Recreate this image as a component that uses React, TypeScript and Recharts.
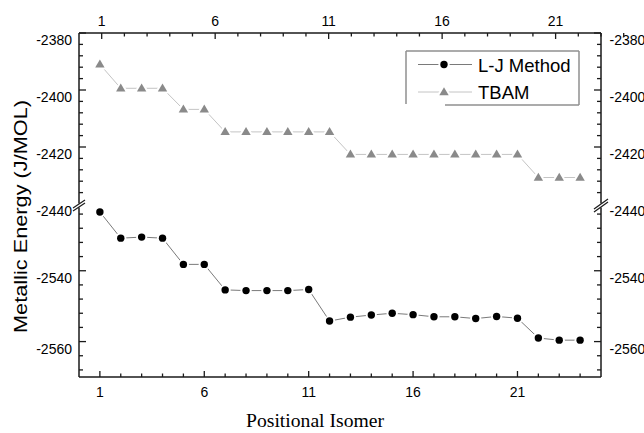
import React from 'react';
import { LineChart, Line, XAxis, YAxis, Legend, Label } from 'recharts';

// ---------- data ----------
const isomers = [1, 2, 3, 4, 5, 6, 7, 8, 9, 10, 11, 12, 13, 14, 15, 16, 17, 18, 19, 20, 21, 22, 23, 24];
const ljMethod = [
  -2523.4, -2530.8, -2530.5, -2530.8, -2538.2, -2538.2, -2545.4, -2545.6, -2545.6, -2545.6, -2545.3, -2554.2,
  -2553.1, -2552.5, -2552.0, -2552.4, -2553.0, -2553.0, -2553.5, -2552.9, -2553.4, -2559.0, -2559.6, -2559.6,
];
const tbam = [
  -2391.0, -2399.4, -2399.4, -2399.4, -2406.8, -2406.8, -2414.7, -2414.7, -2414.7, -2414.7, -2414.7, -2414.7,
  -2422.6, -2422.6, -2422.6, -2422.6, -2422.6, -2422.6, -2422.6, -2422.6, -2422.6, -2430.7, -2430.7, -2430.7,
];
const seriesNames = ['L-J Method', 'TBAM'];
const xMajorTicks = [1, 6, 11, 16, 21];
const xAllTicks = [1, 2, 3, 4, 5, 6, 7, 8, 9, 10, 11, 12, 13, 14, 15, 16, 17, 18, 19, 20, 21, 22, 23, 24];
const yMajorTicks = [-2380, -2400, -2420, -2440, -2540, -2560];
const yMinorTicks = [
  -2384, -2388, -2392, -2396, -2404, -2408, -2412, -2416, -2424, -2428, -2432, -2436,
  -2524, -2528, -2532, -2536, -2544, -2548, -2552, -2556, -2564, -2568,
];
const yBreakValue = -2440;
const xDomain = [0, 25];

// ---------- broken axis ----------
const TOP_SEG = [-2440, -2380];
const BOT_SEG = [-2570, -2522];
const TOP_SHARE = 171;
const GAP_SHARE = 3;
const BOT_SHARE = 170;
const DISPLAY_MAX = BOT_SHARE + GAP_SHARE + TOP_SHARE;

function toDisplay(v: number): number {
  if (v >= TOP_SEG[0]) {
    return BOT_SHARE + GAP_SHARE + ((v - TOP_SEG[0]) / (TOP_SEG[1] - TOP_SEG[0])) * TOP_SHARE;
  }
  return ((v - BOT_SEG[0]) / (BOT_SEG[1] - BOT_SEG[0])) * BOT_SHARE;
}

const data = isomers.map((x, i) => ({ x, lj: toDisplay(ljMethod[i]), tbam: toDisplay(tbam[i]) }));
const yAllDisplay = [...yMajorTicks, ...yMinorTicks].map(toDisplay);

function rawOf(d: number): number | undefined {
  return [...yMajorTicks, ...yMinorTicks].find((v) => Math.abs(toDisplay(v) - d) < 0.01);
}

const FONT = '"Liberation Sans", Arial, sans-serif';
const AXIS = '#1a1a1a';
const MAJOR = 7;
const MINOR = 4;
const TICK_FS = 14;

function BreakMark({ x, y, w, h }: { x: number; y: number; w: number; h: number }) {
  return (
    <g>
      <rect x={x - 2} y={y - 2} width={4} height={4} fill="#fff" />
      <line x1={x - w} y1={y - 1.6 + h} x2={x + w} y2={y - 1.6 - h} stroke={AXIS} strokeWidth={1.2} />
      <line x1={x - w} y1={y + 1.6 + h} x2={x + w} y2={y + 1.6 - h} stroke={AXIS} strokeWidth={1.2} />
    </g>
  );
}

const YTick = (side: 'left' | 'right') => (props: any) => {
  const { x, y, payload } = props;
  const raw = rawOf(payload.value);
  const major = raw !== undefined && yMajorTicks.includes(raw);
  const isBreak = raw === yBreakValue;
  const dir = side === 'left' ? 1 : -1;
  return (
    <g>
      {!isBreak && (
        <line x1={x} x2={x + dir * (major ? MAJOR : MINOR)} y1={y} y2={y} stroke={AXIS} strokeWidth={1.3} />
      )}
      {isBreak && <BreakMark x={x} y={y + 1.5} w={side === 'left' ? 6 : 7} h={side === 'left' ? 4 : 5} />}
      {major && (
        <text
          x={side === 'left' ? x - 7 : x + 8.5}
          y={y + 12}
          textAnchor={side === 'left' ? 'end' : 'start'}
          fontSize={TICK_FS}
          fontFamily={FONT}
          fill="#000"
        >
          {raw}
        </text>
      )}
    </g>
  );
};

const XTick = (side: 'top' | 'bottom') => (props: any) => {
  const { x, y, payload } = props;
  const v = payload.value;
  const major = xMajorTicks.includes(v);
  const dir = side === 'top' ? 1 : -1;
  return (
    <g>
      <line x1={x} x2={x} y1={y} y2={y + dir * (major ? MAJOR - 1 : MINOR - 0.5)} stroke={AXIS} strokeWidth={1.3} />
      {major && (
        <text
          x={x}
          y={side === 'top' ? y - 7.5 : y + 20}
          textAnchor="middle"
          fontSize={TICK_FS}
          fontFamily={FONT}
          fill="#000"
        >
          {v}
        </text>
      )}
    </g>
  );
};

const CircleDot = (p: any) => {
  const { cx, cy } = p;
  if (cx == null || cy == null) return <g />;
  return (
    <g>
      <circle cx={cx} cy={cy} r={5.6} fill="#fff" />
      <circle cx={cx} cy={cy} r={3.7} fill="#000" />
    </g>
  );
};

function triPath(cx: number, cy: number, s: number) {
  return `M${cx},${cy - 4.8 * s} L${cx - 4.7 * s},${cy + 3.2 * s} L${cx + 4.7 * s},${cy + 3.2 * s} Z`;
}

const TriDot = (p: any) => {
  const { cx, cy } = p;
  if (cx == null || cy == null) return <g />;
  return (
    <g>
      <path d={triPath(cx, cy, 1)} fill="#fff" stroke="#fff" strokeWidth={4} strokeLinejoin="round" />
      <path d={triPath(cx, cy, 1)} fill="#8a8a8a" />
    </g>
  );
};

const LJ_LINE = '#7a7a7a';
const TB_LINE = '#c4c4c4';

const renderLegend = () => (
  <svg width={200} height={70} style={{ overflow: 'visible' }}>
    <g transform="translate(-400,-45)">
      <line x1={406} y1={51} x2={579} y2={51} stroke="#8f8f8f" strokeWidth={1.5} />
      <line x1={406} y1={51} x2={406} y2={104} stroke="#8f8f8f" strokeWidth={1.5} />
      <line x1={579} y1={51} x2={579} y2={105} stroke="#8f8f8f" strokeWidth={1.5} />
      <line x1={445} y1={105} x2={579} y2={105} stroke="#8f8f8f" strokeWidth={1.5} />
      <line x1={418} y1={64.5} x2={472} y2={64.5} stroke={LJ_LINE} strokeWidth={1} />
      <CircleDot cx={444} cy={64.5} />
      <text x={478} y={71.5} fontSize={18.5} fontFamily={FONT} fill="#000">
        {seriesNames[0]}
      </text>
      <line x1={418} y1={92} x2={472} y2={92} stroke={TB_LINE} strokeWidth={1} />
      <TriDot cx={444} cy={92} />
      <text x={478} y={98.5} fontSize={18.5} fontFamily={FONT} fill="#000">
        {seriesNames[1]}
      </text>
    </g>
  </svg>
);

export default function App() {
  return (
    <div style={{ position: 'absolute', left: 0, top: 0, width: 644, height: 433, background: '#fff' }}>
      <LineChart width={644} height={433} data={data} margin={{ top: 0, right: 0, bottom: 0, left: 0 }}>
        <XAxis
          xAxisId="b"
          orientation="bottom"
          type="number"
          dataKey="x"
          domain={xDomain}
          allowDataOverflow
          ticks={xAllTicks}
          interval={0}
          height={56}
          tickSize={0}
          tickMargin={0}
          tickLine={false}
          axisLine={{ stroke: AXIS, strokeWidth: 1.5 }}
          tick={XTick('bottom')}
        >
          <Label
            content={() => (
              <text
                x={315}
                y={427}
                textAnchor="middle"
                fontSize={18}
                fontFamily='"Liberation Serif", "Times New Roman", serif'
                textLength={138}
                lengthAdjust="spacingAndGlyphs"
                fill="#000"
              >
                Positional Isomer
              </text>
            )}
          />
        </XAxis>
        <XAxis
          xAxisId="t"
          orientation="top"
          type="number"
          domain={xDomain}
          allowDataOverflow
          ticks={xAllTicks}
          interval={0}
          height={33}
          tickSize={0}
          tickMargin={0}
          tickLine={false}
          axisLine={{ stroke: AXIS, strokeWidth: 1.5 }}
          tick={XTick('top')}
        />
        <YAxis
          yAxisId="l"
          orientation="left"
          type="number"
          domain={[0, DISPLAY_MAX]}
          allowDataOverflow
          ticks={yAllDisplay}
          interval={0}
          width={79}
          tickSize={0}
          tickMargin={0}
          tickLine={false}
          axisLine={{ stroke: AXIS, strokeWidth: 1.5 }}
          tick={YTick('left')}
        >
          <Label
            content={() => (
              <text
                transform="translate(26.5,216.5) rotate(-90)"
                x={0}
                y={0}
                textAnchor="middle"
                fontSize={19}
                fontFamily={FONT}
                textLength={233}
                lengthAdjust="spacingAndGlyphs"
                fill="#000"
              >
                Metallic Energy (J/MOL)
              </text>
            )}
          />
        </YAxis>
        <YAxis
          yAxisId="r"
          orientation="right"
          type="number"
          domain={[0, DISPLAY_MAX]}
          allowDataOverflow
          ticks={yAllDisplay}
          interval={0}
          width={43}
          tickSize={0}
          tickMargin={0}
          tickLine={false}
          axisLine={{ stroke: AXIS, strokeWidth: 1.5 }}
          tick={YTick('right')}
        />
        <Legend
          layout="vertical"
          align="center"
          verticalAlign="middle"
          content={renderLegend}
          wrapperStyle={{ position: 'absolute', left: 400, top: 45, width: 200, height: 70 }}
        />
        <Line
          xAxisId="b"
          yAxisId="l"
          type="linear"
          dataKey="tbam"
          name={seriesNames[1]}
          stroke={TB_LINE}
          strokeWidth={1}
          dot={TriDot}
          activeDot={false}
          isAnimationActive={false}
        />
        <Line
          xAxisId="b"
          yAxisId="l"
          type="linear"
          dataKey="lj"
          name={seriesNames[0]}
          stroke={LJ_LINE}
          strokeWidth={1}
          dot={CircleDot}
          activeDot={false}
          isAnimationActive={false}
        />
      </LineChart>
    </div>
  );
}
